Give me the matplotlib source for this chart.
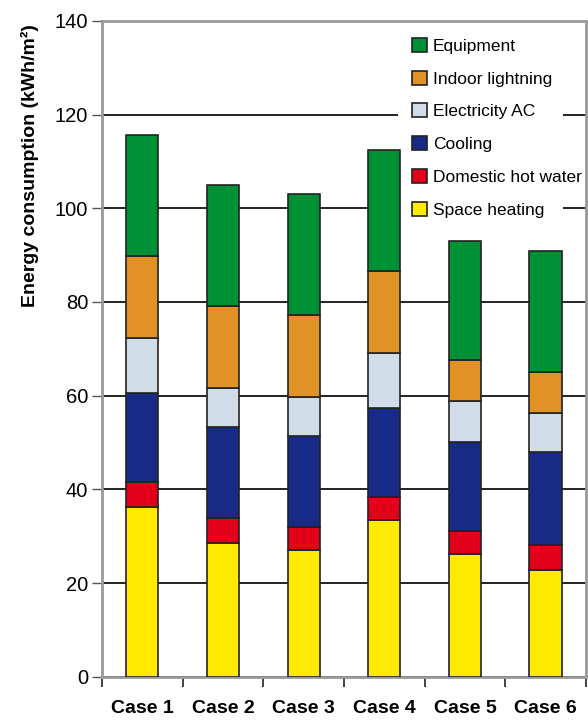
import matplotlib.pyplot as plt
from matplotlib.patches import Rectangle
import numpy as np

plt.rcParams['font.family'] = ['Liberation Sans', 'DejaVu Sans']

cases = ['Case 1', 'Case 2', 'Case 3', 'Case 4', 'Case 5', 'Case 6']
space_heating = [36.2, 28.5, 27.0, 33.4, 26.2, 22.8]
hot_water = [5.3, 5.3, 4.9, 4.9, 5.0, 5.3]
cooling = [19.0, 19.5, 19.5, 19.1, 19.0, 19.8]
electricity_ac = [11.8, 8.3, 8.4, 11.8, 8.7, 8.3]
indoor_lightning = [17.5, 17.5, 17.4, 17.5, 8.8, 8.8]
equipment = [25.8, 25.8, 25.8, 25.8, 25.4, 25.9]

series = [
    ('Space heating', space_heating, '#ffea00'),
    ('Domestic hot water', hot_water, '#e2001a'),
    ('Cooling', cooling, '#172a85'),
    ('Electricity AC', electricity_ac, '#d0dce7'),
    ('Indoor lightning', indoor_lightning, '#e09227'),
    ('Equipment', equipment, '#009137'),
]

x = np.arange(len(cases))
fig = plt.figure(figsize=(5.88, 7.2), dpi=100)
ax = fig.add_axes([0.1735, 0.06, 0.823, 0.911])

bottom = np.zeros(len(cases))
for name, vals, color in series:
    ax.bar(x, vals, 0.4, bottom=bottom, color=color, edgecolor='#222222',
           linewidth=1.2, label=name, zorder=3)
    bottom += np.array(vals)

ax.set_xlim(-0.5, 5.5)
ax.set_ylim(0, 140)
ax.set_yticks(np.arange(0, 141, 20))
ax.yaxis.grid(True, color='#222222', linewidth=1.4)
ax.set_axisbelow(True)

ax.set_xticks(x)
ax.set_xticklabels(cases, fontsize=14, fontweight='bold')
ax.set_xticks(np.arange(-0.5, 6, 1), minor=True)
ax.tick_params(axis='x', which='major', length=0, pad=17)
ax.tick_params(axis='x', which='minor', length=7, width=1.3, color='#333333')
ax.tick_params(axis='y', length=7, width=1, color='#555555', labelsize=14.5, pad=3)

for s in ax.spines.values():
    s.set_color('#999999')
    s.set_linewidth(2)

ax.set_ylabel('Energy consumption (kWh/m²)', fontsize=14, fontweight='bold')
ax.yaxis.set_label_coords(-0.13, 0.78)

# white panel behind the legend, hiding the grid lines there
ax.add_patch(Rectangle((0.6116, 0.694), 0.341, 0.31, transform=ax.transAxes,
                       facecolor='white', edgecolor='none', zorder=1))

handles, labels = ax.get_legend_handles_labels()
leg = ax.legend(handles[::-1], labels[::-1], loc='upper left',
                bbox_to_anchor=(0.6405, 0.974), fontsize=12.5, frameon=False,
                handlelength=0.85, handleheight=0.85, handletextpad=0.35,
                labelspacing=0.97, borderaxespad=0, borderpad=0)
leg.set_zorder(5)

fig.savefig('out.png', dpi=100)
